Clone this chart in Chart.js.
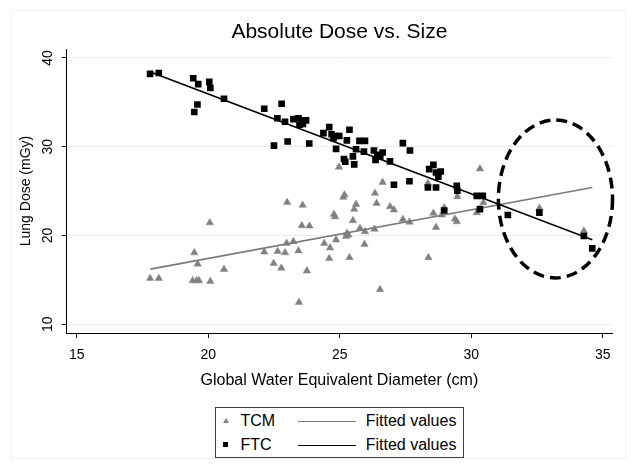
<!DOCTYPE html>
<html>
<head>
<meta charset="utf-8">
<script src="https://cdn.jsdelivr.net/npm/chart.js@4.4.1/dist/chart.umd.min.js"></script>
<style>
  html, body { margin: 0; padding: 0; background: #fff; }
  #wrap { position: relative; width: 636px; height: 468px; }
  #frame { position: absolute; left: 11px; top: 10px; width: 613px; height: 447px; border: 1px solid #edf1f0; }
  canvas { position: absolute; left: 0; top: 0; }
  #legend { position: absolute; left: 215px; top: 407px; width: 247px; height: 49px; border: 1px solid #404040;
            font: 16px 'Liberation Sans', Arial, sans-serif; color: #000; background: #fff; }
  .item { position: absolute; height: 20px; line-height: 20px; white-space: nowrap; }
  .tri { position: absolute; left: 0; top: 7px; width: 0; height: 0;
         border-left: 3px solid transparent; border-right: 3px solid transparent; border-bottom: 5px solid #808080; }
  .sq { position: absolute; left: 0; top: 7px; width: 5px; height: 5px; background: #000; }
  .ln { position: absolute; left: 0; top: 10px; width: 58px; }
</style>
</head>
<body>
<div id="wrap">
  <div id="frame"></div>
  <canvas id="chart" width="636" height="468"></canvas>
  <div id="legend"></div>
</div>
<script>
// diameter (cm) and lung dose (mGy)
const tcmX = [17.79, 18.12, 19.47, 19.6, 19.41, 19.56, 19.65, 20.06, 20.08, 20.6,
  22.13, 22.49, 22.64, 22.78, 22.92, 23.0, 22.98, 23.24, 23.43, 23.45,
  23.59, 23.56, 23.85, 23.75, 24.41, 24.63, 24.6, 24.86, 25.24, 25.94,
  25.37, 24.97, 26.63, 25.18, 25.14, 26.34, 25.62, 25.55, 26.4, 26.91,
  27.06, 24.78, 24.82, 25.5, 27.4, 27.65, 25.27, 25.33, 25.77, 25.96,
  26.32, 26.53, 28.37, 30.33, 28.35, 29.47, 30.46, 30.21, 28.56, 28.88,
  28.97, 28.66, 29.38, 29.45, 32.59, 34.28];
const tcmY = [15.16, 15.16, 18.05, 16.77, 14.9, 14.9, 14.9, 21.43, 14.82, 16.17,
  18.13, 16.85, 18.2, 16.32, 18.05, 23.73, 19.1, 19.3, 18.27, 12.45,
  23.4, 21.1, 21.06, 16.0, 19.1, 18.6, 17.4, 19.5, 19.9, 19.0,
  17.5, 27.7, 25.98, 24.56, 24.3, 24.75, 23.5, 22.95, 23.62, 23.24,
  22.87, 22.38, 22.1, 21.66, 21.8, 21.5, 20.24, 20.05, 20.8, 20.42,
  20.7, 13.9, 17.5, 27.5, 25.88, 24.37, 23.7, 22.56, 22.5, 22.3,
  23.1, 20.9, 21.85, 21.55, 23.06, 20.5];

const ftcX = [17.79, 18.12, 19.43, 19.62, 20.04, 20.08, 19.59, 19.47, 20.6, 22.13,
  22.79, 22.63, 22.92, 23.24, 23.43, 23.55, 23.72, 23.47, 23.6, 22.5,
  23.02, 23.84, 24.38, 24.6, 24.69, 24.86, 24.98, 24.76, 25.37, 25.27,
  24.86, 25.75, 25.96, 25.62, 25.92, 25.5, 25.16, 25.21, 25.55, 26.3,
  26.63, 26.43, 26.36, 26.54, 26.91, 27.4, 27.67, 27.06, 27.65, 28.4,
  28.56, 28.66, 28.84, 28.75, 28.35, 28.66, 29.45, 29.47, 30.21, 30.44,
  30.33, 28.97, 31.39, 32.59, 34.28, 34.6];
const ftcY = [38.2, 38.3, 37.7, 37.05, 37.3, 36.6, 34.75, 33.9, 35.4, 34.27,
  34.83, 33.2, 32.8, 33.1, 33.2, 32.95, 32.95, 32.46, 32.57, 30.12,
  30.58, 30.35, 31.52, 32.2, 31.4, 31.2, 31.2, 30.96, 31.9, 30.7,
  29.75, 30.65, 30.65, 29.7, 29.44, 28.9, 28.6, 28.3, 28.0, 29.56,
  29.34, 29.07, 28.5, 28.9, 28.33, 30.4, 29.56, 25.7, 26.1, 27.46,
  27.95, 27.08, 27.2, 26.6, 25.39, 25.39, 25.58, 25.05, 24.45, 24.45,
  22.95, 22.8, 22.3, 22.56, 19.93, 18.54];

// fitted line end points
const fitX = [17.8, 34.6];
const tcmFitY = [16.2, 25.4];
const ftcFitY = [38.4, 19.5];

const xTicks = [15, 20, 25, 30, 35];
const yTicks = [10, 20, 30, 40];

// dashed ellipse marking the largest patients (data units)
const ringCenter = [33.2, 24.1];
const ringRadius = [2.17, 8.9];

Chart.defaults.font.family = "'Liberation Sans', Arial, sans-serif";
Chart.defaults.color = '#000';

const pts = (xs, ys) => xs.map((x, i) => ({ x: x, y: ys[i] }));

const ringPlugin = {
  id: 'ring',
  afterDatasetsDraw(chart) {
    const { ctx, scales: { x, y } } = chart;
    const cx = x.getPixelForValue(ringCenter[0]);
    const cy = y.getPixelForValue(ringCenter[1]);
    const rx = x.getPixelForValue(ringCenter[0] + ringRadius[0]) - cx;
    const ry = cy - y.getPixelForValue(ringCenter[1] + ringRadius[1]);
    ctx.save();
    ctx.beginPath();
    ctx.setLineDash([11, 6]);
    ctx.lineWidth = 3.5;
    ctx.strokeStyle = '#000';
    ctx.ellipse(cx, cy, rx, ry, 0, 0, Math.PI * 2);
    ctx.stroke();
    ctx.restore();
  }
};

const chart = new Chart(document.getElementById('chart'), {
  type: 'scatter',
  data: {
    datasets: [
      { label: 'TCM', data: pts(tcmX, tcmY), pointStyle: 'triangle', pointRadius: 4.3,
        backgroundColor: '#808080', borderColor: '#8a8a8a', borderWidth: 0.5, order: 4 },
      { label: 'Fitted values', data: pts(fitX, tcmFitY), showLine: true, pointRadius: 0,
        borderColor: '#7a7a7a', borderWidth: 1.6, order: 3 },
      { label: 'FTC', data: pts(ftcX, ftcY), pointStyle: 'rect', pointRadius: 4.7,
        backgroundColor: '#000', borderColor: '#000', borderWidth: 0, order: 2 },
      { label: 'Fitted values', data: pts(fitX, ftcFitY), showLine: true, pointRadius: 0,
        borderColor: '#000', borderWidth: 1.6, order: 1 }
    ]
  },
  options: {
    responsive: false,
    animation: false,
    events: [],
    layout: { padding: { left: 0, right: 24, top: 0, bottom: 70 } },
    plugins: {
      legend: { display: false },
      tooltip: { enabled: false },
      title: {
        display: true,
        text: 'Absolute Dose vs. Size',
        fullSize: false,
        color: '#000',
        font: { size: 21, weight: 'normal' },
        padding: { top: 19.4, bottom: 4.4 }
      }
    },
    scales: {
      x: {
        type: 'linear',
        min: 14.62,
        max: 35.35,
        afterBuildTicks: s => { s.ticks = xTicks.map(v => ({ value: v })); },
        afterFit: s => { s.height = 65; },
        grid: { drawOnChartArea: false, tickLength: 5, tickColor: '#000', tickWidth: 1 },
        border: { color: '#000', width: 1 },
        ticks: { color: '#000', font: { size: 14 }, padding: 8.6, maxRotation: 0 },
        title: { display: true, text: 'Global Water Equivalent Diameter (cm)', color: '#000',
                 font: { size: 16 }, padding: { top: 0, bottom: 7.4 } }
      },
      y: {
        type: 'linear',
        min: 9,
        max: 41,
        afterBuildTicks: s => { s.ticks = yTicks.map(v => ({ value: v })); },
        afterFit: s => { s.width = 66.7; },
        grid: { color: '#ececec', lineWidth: 1, tickLength: 5, tickColor: '#000', tickWidth: 1 },
        border: { color: '#000', width: 1 },
        ticks: { color: '#000', font: { size: 14 }, padding: 5.6, minRotation: 90, maxRotation: 90, crossAlign: 'center' },
        title: { display: true, text: 'Lung Dose (mGy)', color: '#000',
                 font: { size: 14 }, padding: { top: 17.6, bottom: 0 } }
      }
    }
  },
  plugins: [ringPlugin]
});

// legend box: marker + name, then fitted line sample, two rows
const legend = document.getElementById('legend');
chart.data.datasets.forEach((ds, i) => {
  const row = Math.floor(i / 2);
  const item = document.createElement('div');
  item.className = 'item';
  item.style.top = (row ? 27 : 2.5) + 'px';
  const mark = document.createElement('div');
  if (ds.showLine) {
    item.style.left = '81.7px';
    mark.className = 'ln';
    mark.style.borderTop = ds.borderWidth + 'px solid ' + ds.borderColor;
    item.style.paddingLeft = '68px';
  } else {
    item.style.left = '7px';
    mark.className = ds.pointStyle === 'triangle' ? 'tri' : 'sq';
    item.style.paddingLeft = '17.5px';
  }
  item.appendChild(mark);
  item.appendChild(document.createTextNode(ds.label));
  legend.appendChild(item);
});
</script>
</body>
</html>
